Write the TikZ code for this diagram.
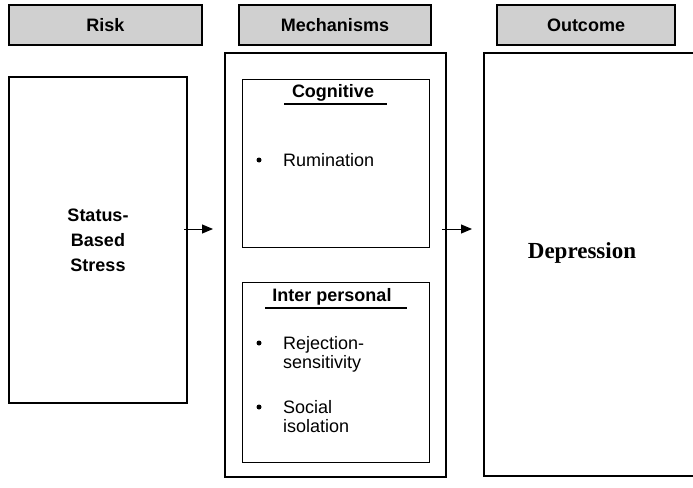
\documentclass[tikz,border=0pt]{standalone}
\usepackage{fontspec}
\setmainfont{Liberation Sans}
\newfontfamily\depfont{Liberation Serif}
\usetikzlibrary{arrows.meta}
\definecolor{hdrgray}{RGB}{208,208,208}
\begin{document}
\begin{tikzpicture}[x=1pt,y=-1pt,
  box/.style={draw, line width=1.5pt, outer sep=0pt, inner sep=0pt, anchor=north west},
  inbox/.style={draw, line width=0.9pt, outer sep=0pt, inner sep=0pt, anchor=north west},
  hdr/.style={box, line width=1.4pt, fill=hdrgray, font=\fontsize{18}{20}\selectfont\bfseries},
  lbl/.style={font=\fontsize{18}{20}\selectfont, inner sep=0pt, anchor=base west},
  ttl/.style={font=\fontsize{18}{20}\selectfont\bfseries, inner sep=0pt},
  bul/.style={circle, fill, inner sep=0pt, minimum size=5pt},
  uline/.style={line width=2.5pt},
  arr/.style={line width=1pt, -{Triangle[length=11pt,width=9pt]}}]
\useasboundingbox (0,0) rectangle (693,487);
\clip (0,0) rectangle (693,487);
% headers
\node[hdr, minimum width=193pt, minimum height=40pt] (hrisk) at (9,5) {Risk};
\node[hdr, minimum width=192pt, minimum height=40pt] (hmech) at (239,5) {Mechanisms};
\node[hdr, minimum width=178pt, minimum height=40pt] (hout) at (497,5) {Outcome};
% risk box
\node[box, minimum width=178pt, minimum height=326pt, align=center,
      font=\fontsize{18}{25}\selectfont\bfseries] (risk) at (9,77) {Status-\\Based\\Stress};
% mechanisms
\node[box, minimum width=221pt, minimum height=424pt] (mech) at (225,53) {};
\node[inbox, minimum width=187pt, minimum height=168pt] (cog) at (242,79) {};
\node[inbox, minimum width=187pt, minimum height=180pt] (inter) at (242,282) {};
% outcome
\node[box, minimum width=240pt, minimum height=423pt] (out) at (484,53) {};
\node[font=\fontsize{23}{25}\selectfont\depfont\bfseries, inner sep=0pt, anchor=base] (dep) at (582,258) {Depression};
% cognitive content
\node[ttl] (cogt) at (333,93) {Cognitive};
\draw[uline] (284,104) -- (387,104);
\node[bul] (b1) at (259,160) {};
\node[lbl] (rum) at (283,166) {Rumination};
% interpersonal content
\node[ttl] (intt) at (332,297) {Inter personal};
\draw[uline] (265,308) -- (407,308);
\node[bul] (b2) at (259,343) {};
\node[lbl] (rej1) at (283,349) {Rejection-};
\node[lbl] (rej2) at (283,368.5) {sensitivity};
\node[bul] (b3) at (259,407) {};
\node[lbl] (soc1) at (283,413) {Social};
\node[lbl] (soc2) at (283,432.5) {isolation};
% arrows
\coordinate (t1) at (213,229);
\coordinate (t2) at (472,229);
\draw[arr] ([xshift=-3pt]risk.east |- t1) -- (t1);
\draw[arr] ([xshift=-4pt]mech.east |- t2) -- (t2);
\end{tikzpicture}
\end{document}
